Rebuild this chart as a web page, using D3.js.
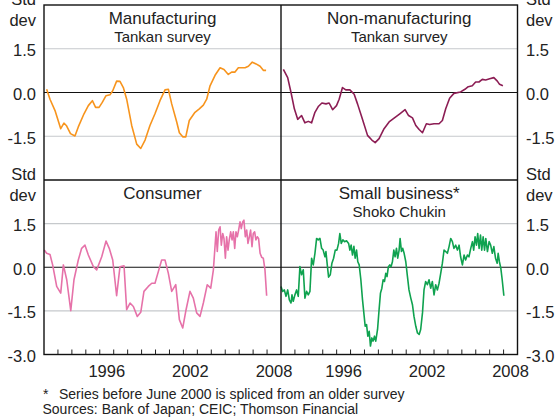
<!DOCTYPE html>
<html>
<head>
<meta charset="utf-8">
<script src="https://cdn.jsdelivr.net/npm/d3@7"></script>
<style>
  body { margin: 0; background: #fff; }
  text { font-family: Arial, "Liberation Sans", sans-serif; fill: #222; }
</style>
</head>
<body>
<div id="chart"></div>
<script>
// data: [decimal year, std dev]
var mfg = [[1992.19,0.11],[1992.43,-0.23],[1992.79,-0.62],[1993.2,-1.24],[1993.43,-1.05],[1993.6,-1.13],[1993.9,-1.41],[1994.22,-1.49],[1994.46,-1.18],[1994.87,-0.73],[1995.18,-0.45],[1995.47,-0.28],[1995.7,-0.51],[1995.95,-0.51],[1996.18,-0.34],[1996.45,-0.11],[1996.73,-0.08],[1996.93,0.06],[1997.21,0.39],[1997.45,0.38],[1997.69,0.17],[1997.93,-0.23],[1998.29,-1.13],[1998.65,-1.77],[1998.94,-1.92],[1999.25,-1.63],[1999.6,-1.13],[1999.96,-0.73],[2000.32,-0.28],[2000.68,0.09],[2000.92,0.11],[2001.16,-0.39],[2001.52,-1.01],[2001.71,-1.38],[2001.95,-1.52],[2002.17,-1.52],[2002.42,-0.96],[2002.83,-0.68],[2003.14,-0.56],[2003.43,-0.43],[2003.67,-0.23],[2003.91,0.23],[2004.27,0.59],[2004.63,0.85],[2004.91,0.79],[2005.22,0.62],[2005.46,0.70],[2005.7,0.70],[2005.94,0.85],[2006.42,0.85],[2006.66,0.90],[2006.94,1.04],[2007.21,0.98],[2007.5,0.90],[2007.73,0.76],[2007.93,0.76]];

var nonMfg = [[1992.17,0.79],[1992.48,0.51],[1992.72,0.0],[1992.96,-0.56],[1993.2,-0.92],[1993.48,-0.79],[1993.72,-1.04],[1993.96,-0.99],[1994.2,-1.04],[1994.44,-0.68],[1994.7,-0.47],[1994.94,-0.36],[1995.23,-0.39],[1995.46,-0.36],[1995.71,-0.59],[1995.99,-0.45],[1996.18,-0.23],[1996.42,0.17],[1996.66,0.09],[1996.95,0.09],[1997.26,-0.06],[1997.5,-0.39],[1997.81,-0.85],[1998.22,-1.47],[1998.53,-1.63],[1998.77,-1.72],[1999.05,-1.58],[1999.41,-1.24],[1999.77,-1.01],[2000.13,-0.88],[2000.54,-0.73],[2000.92,-0.59],[2001.17,-0.79],[2001.45,-0.87],[2001.69,-1.13],[2001.93,-1.27],[2002.17,-1.38],[2002.45,-1.07],[2002.69,-1.10],[2003.0,-1.07],[2003.36,-1.07],[2003.6,-0.96],[2003.84,-0.56],[2004.12,-0.20],[2004.43,-0.03],[2004.91,0.02],[2005.22,0.11],[2005.46,0.20],[2005.75,0.23],[2005.99,0.36],[2006.23,0.36],[2006.47,0.45],[2006.71,0.43],[2007.0,0.47],[2007.3,0.51],[2007.55,0.39],[2007.71,0.28],[2007.95,0.23]];

var consumer = [[1992.02,0.59],[1992.19,0.48],[1992.43,0.44],[1992.62,0.08],[1992.91,-0.66],[1993.2,-0.89],[1993.39,0.08],[1993.63,-0.43],[1993.92,-1.49],[1994.15,-0.43],[1994.46,0.25],[1994.7,0.65],[1994.94,0.76],[1995.18,0.42],[1995.54,0.02],[1995.78,-0.09],[1996.14,0.36],[1996.45,0.90],[1996.68,0.65],[1996.93,0.25],[1997.21,-0.98],[1997.45,0.02],[1997.74,0.05],[1997.93,-1.46],[1998.17,-1.23],[1998.41,-1.35],[1998.69,-1.69],[1998.94,-1.55],[1999.17,-0.83],[1999.48,-0.66],[1999.73,-0.55],[1999.96,-0.55],[2000.2,-0.15],[2000.44,0.25],[2000.68,0.25],[2000.92,-0.21],[2001.16,-0.83],[2001.45,-0.60],[2001.71,-1.80],[2001.95,-2.09],[2002.19,-1.46],[2002.47,-0.83],[2002.71,-1.06],[2002.95,-1.57],[2003.19,-1.69],[2003.43,-1.23],[2003.71,-0.60],[2003.96,-0.72],[2004.15,-0.09],[2004.34,1.22],[2004.43,0.54],[2004.53,1.28],[2004.63,1.39],[2004.72,0.76],[2004.82,1.16],[2004.91,0.99],[2005.01,0.31],[2005.1,1.05],[2005.2,0.59],[2005.29,0.94],[2005.39,1.22],[2005.49,0.94],[2005.58,1.22],[2005.68,0.65],[2005.77,1.22],[2005.87,1.05],[2005.96,1.28],[2006.06,1.56],[2006.15,1.33],[2006.25,1.56],[2006.34,1.62],[2006.44,1.05],[2006.54,1.28],[2006.63,0.82],[2006.73,1.05],[2006.82,1.28],[2006.92,0.71],[2007.01,1.16],[2007.11,1.22],[2007.2,0.94],[2007.3,1.05],[2007.39,0.99],[2007.5,0.48],[2007.62,0.34],[2007.73,0.31],[2007.85,-0.09],[2007.97,-0.98]];

var smallBiz = [[1992.0,-0.66],[1992.12,-0.83],[1992.24,-0.78],[1992.36,-1.0],[1992.48,-0.78],[1992.6,-1.12],[1992.72,-1.23],[1992.79,-0.95],[1992.88,-1.17],[1993.0,-0.95],[1993.12,-0.78],[1993.24,-1.0],[1993.36,0.02],[1993.48,-0.26],[1993.6,-0.09],[1993.72,-1.06],[1993.84,-0.83],[1993.96,-0.95],[1994.08,-0.83],[1994.2,0.31],[1994.32,0.08],[1994.44,0.48],[1994.56,0.99],[1994.68,0.94],[1994.8,0.99],[1994.92,0.65],[1995.03,0.59],[1995.16,0.36],[1995.23,0.54],[1995.35,-0.03],[1995.42,-0.34],[1995.54,-0.26],[1995.66,0.14],[1995.78,0.31],[1995.9,0.59],[1996.02,0.59],[1996.14,0.82],[1996.23,1.16],[1996.33,0.82],[1996.45,0.94],[1996.57,0.88],[1996.71,0.91],[1996.86,0.82],[1996.95,0.59],[1997.04,0.76],[1997.14,0.42],[1997.24,0.72],[1997.33,0.31],[1997.43,0.59],[1997.52,0.19],[1997.62,0.08],[1997.74,-0.43],[1997.86,-1.12],[1997.98,-1.69],[1998.05,-2.03],[1998.15,-1.97],[1998.24,-2.37],[1998.34,-2.2],[1998.43,-2.71],[1998.53,-2.43],[1998.62,-2.54],[1998.72,-2.37],[1998.81,-2.54],[1998.94,-2.14],[1999.05,-1.46],[1999.15,-0.89],[1999.25,-0.72],[1999.34,-0.43],[1999.44,-0.49],[1999.53,-0.21],[1999.62,-0.32],[1999.72,0.02],[1999.82,0.08],[1999.91,0.02],[2000.01,0.19],[2000.11,0.59],[2000.2,0.36],[2000.3,0.65],[2000.39,0.31],[2000.49,0.59],[2000.56,0.99],[2000.66,0.54],[2000.75,0.65],[2000.85,0.48],[2000.97,0.19],[2001.09,-0.32],[2001.2,-0.78],[2001.33,-1.06],[2001.45,-1.29],[2001.56,-1.69],[2001.69,-2.03],[2001.81,-2.26],[2001.93,-2.31],[2002.04,-2.14],[2002.17,-1.57],[2002.28,-0.78],[2002.4,-0.49],[2002.52,-0.6],[2002.64,-0.43],[2002.76,-0.72],[2002.88,-0.49],[2003.0,-0.95],[2003.12,-0.6],[2003.24,-0.78],[2003.36,-0.55],[2003.48,-0.21],[2003.6,0.14],[2003.72,0.59],[2003.84,0.54],[2003.96,0.48],[2004.08,0.71],[2004.2,0.99],[2004.32,0.88],[2004.43,0.65],[2004.56,0.76],[2004.68,0.59],[2004.8,0.76],[2004.91,0.36],[2005.04,0.08],[2005.16,0.42],[2005.27,0.25],[2005.4,0.42],[2005.51,0.36],[2005.64,0.65],[2005.76,0.88],[2005.85,0.59],[2005.95,1.05],[2006.05,0.76],[2006.14,1.16],[2006.24,0.65],[2006.34,1.11],[2006.43,0.59],[2006.53,1.05],[2006.63,0.59],[2006.72,0.99],[2006.84,0.54],[2006.96,0.88],[2007.07,0.76],[2007.19,0.48],[2007.3,0.71],[2007.42,0.31],[2007.54,0.14],[2007.61,0.48],[2007.7,0.19],[2007.8,-0.03],[2007.9,-0.43],[2008.02,-0.98]];

var yTicks = [1.5, 0, -1.5];
var yearLabels = [1996, 2002, 2008];
var yearTicks = d3.range(1993, 2009);

var panels = [
  {title: "Manufacturing", sub: "Tankan survey", data: mfg, color: "#f7941d", col: 0, row: 0},
  {title: "Non-manufacturing", sub: "Tankan survey", data: nonMfg, color: "#8c1d54", col: 1, row: 0},
  {title: "Consumer", sub: "", data: consumer, color: "#e672a9", col: 0, row: 1},
  {title: "Small business*", sub: "Shoko Chukin", data: smallBiz, color: "#0fa24f", col: 1, row: 1}
];

var W = 556, H = 417;
var plotLeft = 44, plotMid = 281, plotRight = 517.5;
var plotTop = 5, plotMidY = 180, plotBottom = 354.5;

var svg = d3.select("#chart").append("svg")
  .attr("width", W).attr("height", H);

var xs = [
  d3.scaleLinear().domain([1992, 2009]).range([plotLeft, plotMid]),
  d3.scaleLinear().domain([1992, 2009]).range([plotMid, plotRight])
];
var ys = [
  d3.scaleLinear().domain([-3, 3]).range([plotMidY, plotTop]),
  d3.scaleLinear().domain([-3, 3]).range([plotBottom, plotMidY])
];

panels.forEach(function(p) {
  var x = xs[p.col], y = ys[p.row];
  var g = svg.append("g");

  // grid lines
  g.selectAll(".grid").data(yTicks).enter().append("line")
    .attr("x1", x.range()[0]).attr("x2", x.range()[1])
    .attr("y1", function(d){ return y(d); })
    .attr("y2", function(d){ return y(d); })
    .attr("stroke", function(d){ return d === 0 ? "#111" : "#c6c9cc"; })
    .attr("stroke-width", 1.1);

  var line = d3.line()
    .x(function(d){ return x(d[0]); })
    .y(function(d){ return y(d[1]); });

  g.append("path")
    .datum(p.data)
    .attr("d", line)
    .attr("fill", "none")
    .attr("stroke", p.color)
    .attr("stroke-width", 1.6)
    .attr("stroke-linejoin", "round");

  var cx = (x.range()[0] + x.range()[1]) / 2;
  var ty = y.range()[1];
  g.append("text").attr("x", cx).attr("y", ty + 18.5)
    .attr("text-anchor", "middle").style("font-size", "17px").text(p.title);
  if (p.sub) {
    g.append("text").attr("x", cx).attr("y", ty + 37)
      .attr("text-anchor", "middle").style("font-size", "15px").text(p.sub);
  }

  // bottom row: year ticks and labels
  if (p.row === 1) {
    g.selectAll(".tick").data(yearTicks).enter().append("line")
      .attr("x1", function(d){ return x(d); })
      .attr("x2", function(d){ return x(d); })
      .attr("y1", plotBottom).attr("y2", plotBottom - 5)
      .attr("stroke", "#222").attr("stroke-width", 1);
    g.selectAll(".yl").data(yearLabels).enter().append("text")
      .attr("x", function(d){ return x(d + 0.5); })
      .attr("y", 376.5)
      .attr("text-anchor", "middle").style("font-size", "16.5px")
      .text(function(d){ return d; });
  }
});

// y labels on both sides
ys.forEach(function(y, r) {
  var vals = r === 1 ? yTicks.concat([-3]) : yTicks;
  [[36, "end"], [526, "start"]].forEach(function(side) {
    svg.selectAll(null).data(vals).enter().append("text")
      .attr("x", side[0])
      .attr("y", function(d){ return y(d) + 7.5; })
      .attr("text-anchor", side[1])
      .style("font-size", "16.5px")
      .text(function(d){ return d.toFixed(1); });
    var t0 = y.range()[1];
    svg.append("text").attr("x", side[0]).attr("y", t0)
      .attr("text-anchor", side[1]).style("font-size", "16.5px").text("Std");
    svg.append("text").attr("x", side[0]).attr("y", t0 + 20.5)
      .attr("text-anchor", side[1]).style("font-size", "16.5px").text("dev");
  });
});

// frame and dividers
svg.append("rect")
  .attr("x", plotLeft).attr("y", plotTop)
  .attr("width", plotRight - plotLeft).attr("height", plotBottom - plotTop)
  .attr("fill", "none").attr("stroke", "#111").attr("stroke-width", 1.4);
svg.append("line").attr("x1", plotMid).attr("x2", plotMid).attr("y1", plotTop).attr("y2", plotBottom)
  .attr("stroke", "#111").attr("stroke-width", 1.4);
svg.append("line").attr("x1", plotLeft).attr("x2", plotRight).attr("y1", plotMidY).attr("y2", plotMidY)
  .attr("stroke", "#111").attr("stroke-width", 1.4);

// footnotes
svg.append("text").attr("x", 43).attr("y", 398.5).style("font-size", "14px").text("*");
svg.append("text").attr("x", 59).attr("y", 398.5).style("font-size", "14px")
  .text("Series before June 2000 is spliced from an older survey");
svg.append("text").attr("x", 42.5).attr("y", 413.5).style("font-size", "14px")
  .text("Sources: Bank of Japan; CEIC; Thomson Financial");
</script>
</body>
</html>
